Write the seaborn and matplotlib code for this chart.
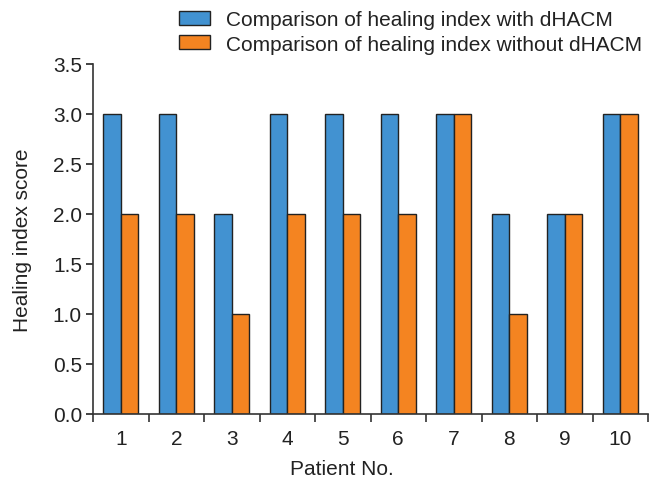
import matplotlib
matplotlib.use("Agg")
import matplotlib.pyplot as plt
import seaborn as sns
import pandas as pd
import numpy as np
from matplotlib.ticker import FixedLocator

patients = ["1", "2", "3", "4", "5", "6", "7", "8", "9", "10"]
with_dhacm = [3, 3, 2, 3, 3, 3, 3, 2, 2, 3]
without_dhacm = [2, 2, 1, 2, 2, 2, 3, 1, 2, 3]
series_names = ["Comparison of healing index with dHACM",
                "Comparison of healing index without dHACM"]
colors = ["#4292d1", "#f48421"]

df = pd.DataFrame({
    "Patient": patients * 2,
    "Score": with_dhacm + without_dhacm,
    "Series": [series_names[0]] * len(patients) + [series_names[1]] * len(patients),
})

sns.set_style("ticks")
plt.rcParams["font.family"] = ["Liberation Sans", "DejaVu Sans"]

FS = 15
fig = plt.figure(figsize=(6.5, 4.81), dpi=100)
ax = fig.add_axes([93/650, 1-415/481, (648-93)/650, (415-65)/481])

sns.barplot(data=df, x="Patient", y="Score", hue="Series", order=patients,
            hue_order=series_names, palette=colors, width=0.63, gap=0,
            edgecolor="#222222", linewidth=1.0, saturation=1, ax=ax)

ax.set_ylim(0, 3.5)
ax.set_xlim(-0.5, len(patients) - 0.5)
ax.set_yticks(np.arange(0, 3.51, 0.5))
ax.set_yticklabels([f"{v:.1f}" for v in np.arange(0, 3.51, 0.5)])
ax.xaxis.set_minor_locator(FixedLocator(np.arange(-0.5, len(patients), 1.0)))
ax.tick_params(axis="x", which="major", length=0, pad=11, labelsize=FS, colors="#222222")
ax.tick_params(axis="x", which="minor", length=6, width=1.2, direction="out", color="#333333")
ax.tick_params(axis="y", which="major", length=5, width=1.2, direction="out", labelsize=FS,
               pad=3, colors="#222222")
for s in ["top", "right"]:
    ax.spines[s].set_visible(False)
for s in ["left", "bottom"]:
    ax.spines[s].set_linewidth(1.2)
    ax.spines[s].set_color("#333333")

ax.set_xlabel("Patient No.", fontsize=FS, color="#222222", labelpad=7.5,
              x=(342-93)/555)
ax.set_ylabel("Healing index score", fontsize=FS, color="#222222", labelpad=15)

handles, labels = ax.get_legend_handles_labels()
ax.get_legend().remove()
fig.legend(handles, labels, loc="upper left", bbox_to_anchor=(171/650, 1-3/481),
           frameon=False, fontsize=FS, handlelength=1.45, handleheight=0.63,
           handletextpad=0.77, labelspacing=0.25, borderaxespad=0,
           labelcolor="#222222")

fig.savefig("out.png", dpi=100)
